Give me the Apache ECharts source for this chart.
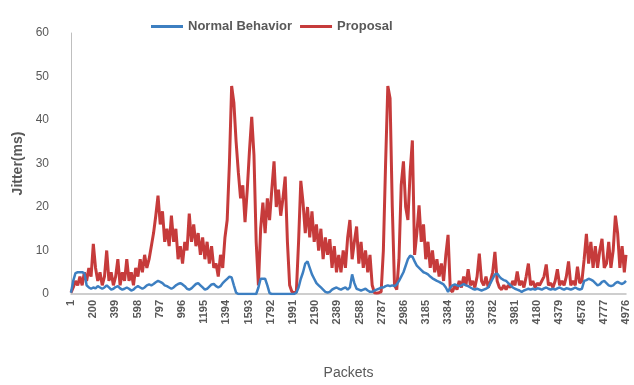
<!DOCTYPE html>
<html>
<head>
<meta charset="utf-8">
<script src="https://cdn.jsdelivr.net/npm/echarts@6/dist/echarts.min.js"></script>
<style>
html,body{margin:0;padding:0;background:#fff;}
#chart{width:634px;height:385px;}
</style>
</head>
<body>
<div id="chart"></div>
<script>
// Tick labels on the packet axis
var xTickLabels = ['1','200','399','598','797','996','1195','1394','1593','1792','1991','2190','2389','2588','2787','2986','3185','3384','3583','3782','3981','4180','4379','4578','4777','4976'];
var yTicks = [0,10,20,30,40,50,60];
var seriesNames = ['Normal Behavior','Proposal'];

// Sample packets: every 20th packet, plus the last one
var packetStep = 20;
var lastPacket = 4976;

var normalBehavior = [
0.3,3,4.8,5,5, 5,4.8,2,1.5,1.2, 1.5,1.3,1.8,1.5,1.2, 1.5,2,1.5,1,1.2,
1.6,1.8,1.3,1,1.2, 1.5,1.2,0.8,1,1.5, 1.8,1.5,1.2,1.5,2, 2.2,2,2.3,2.7,3,
2.8,2.5,2,1.8,1.5, 1.2,1.5,2,2.3,2.5, 2.2,1.8,1.2,1,1.3, 1.8,2.3,2.5,2,1.5,
1,1.2,1.7,2.2,2.3, 1.8,1.5,1.8,2.5,3, 3.5,4,3.8,2,0.3, 0,0,0,0,0,
0,0,0,0,1.5, 3.5,3.5,3.5,2,0.2, 0,0,0,0,0, 0,0,0,0,0,
0,0.3,1.5,3.5,5, 7,7.5,6,4.5,3.5, 2.5,2,1.5,1,0.5, 0.3,0.5,1,1.3,1.5,
1.2,1,1.3,1.5,1, 1.5,4.5,2.5,1.2,1, 0.8,1,1.2,0.8,0.5, 0.5,0.8,1,1.2,1.5,
1.5,1.8,2,1.8,2, 1.8,2.2,3,4,5, 6.5,8,8.8,8.6,7.5, 6.5,6,5.5,5,4.8,
4.5,4,3.6,3.3,3, 2.8,2.5,2.2,1.5,0.5, 1.5,2,2.2,2,1.8, 2,2.3,2,1.8,1.5,
1.2,1,1.2,1,0.8, 1,1.2,1.5,2.5,3.5, 4.5,4.7,4,3.5,3.2, 3,2.5,2,1.5,1.2,
1,0.8,0.5,0.8,1, 1.2,1,1.2,1,1.3, 1.2,1,1.3,1.5,1.2, 1,1.2,1,1.3,1.5,
1.2,1,1.3,1.2,1, 1.2,1.5,1.2,1,1.2, 3,3.2,3.5,3.3,3, 2.5,2,2.2,2.8,3,
2.5,2,1.8,2,2.5, 2.8,2.5,2.3,2.6,3
];
var proposal = [
0.3,1.5,3,2,4, 2,5,3,6,4, 11.5,6,3,5,2, 4,10,3,5,2,
4,8,2,5,3, 8,3,5,2,6, 4,8,5,9,6, 8,11,14,18,22.6,
16,19,12,15,11, 18,12,15,8,11, 7,12,10,18.5,12, 16,11,14,9,13,
8,12,7,11,6, 7,4,9,6,13, 17,30,47.8,44,35, 28,22,25,16.5,24,
33,40.7,32,12,2, 15,21,14,22,17, 24,30.5,20,24,18, 22,27,12,2,0.5,
0.3,0.5,12,26,21, 14,20,13,19,12, 16,10,15,8,13, 9,12.6,6,11,5,
9,5,10,6,13, 17,8,12,15.5,7, 12,6,10,5,9, 2,0.3,0.2,0.3,0.5,
10,30,47.8,45,20, 2,1,8,25,30.5, 20,17,28,35.3,9, 14,20.4,12,16,8,
12,6,10,5,8, 4,7,3,9,13.6, 1,0.5,2,1,3, 1.5,4,2,5.7,2,
3,1.5,4,9.3,3, 2,4,1.5,3,5, 9.7,3,1.5,1,2, 1,2,1.5,3,2,
5.2,2,3,1.5,4, 7,2,3,1.5,2.5, 2,3,4,6.8,2, 2.5,1.5,3,5.7,2,
3,2,4,7.5,2, 3,2,6.3,2.5,3, 8,13.8,7,12,6, 11,6,10,12.7,6,
7,12,6,10,18, 14,6,11,5,9
];

function samplePackets(n){
  var arr = [];
  for (var i = 0; i < n; i++) arr.push(Math.min(1 + i*packetStep, lastPacket));
  return arr;
}
var packets = samplePackets(normalBehavior.length);
function pairs(vals){ return vals.map(function(v,i){ return [packets[i]-1, v]; }); }

var chart = echarts.init(document.getElementById('chart'), null, {renderer:'canvas'});
var gray = '#595959';
chart.setOption({
  animation:false,
  backgroundColor:'#ffffff',
  legend:{
    data:seriesNames, top:15, left:146,
    itemWidth:32, itemHeight:3, itemGap:8,
    icon:'rect',
    textStyle:{color:gray, fontSize:13, fontWeight:'bold', fontFamily:'Liberation Sans'}
  },
  grid:{left:71, right:8, top:33, bottom:87, containLabel:false},
  xAxis:{
    type:'value', min:0, max:4975, interval:199,
    name:'Packets', nameLocation:'middle', nameGap:72,
    nameTextStyle:{color:gray, fontSize:14, fontFamily:'Liberation Sans'},
    axisLine:{show:true, lineStyle:{color:'#bfbfbf', width:1.5}},
    axisTick:{show:false},
    splitLine:{show:false},
    axisLabel:{
      rotate:90, color:gray, fontSize:11, fontWeight:'bold', fontFamily:'Liberation Sans', margin:6,
      formatter:function(v){ return xTickLabels[Math.round(v/199)] || ''; }
    }
  },
  yAxis:{
    type:'value', min:yTicks[0], max:yTicks[yTicks.length-1], interval:10,
    name:'Jitter(ms)', nameLocation:'middle', nameGap:46,
    nameTextStyle:{color:gray, fontSize:14, fontWeight:'bold', fontFamily:'Liberation Sans'},
    axisLine:{show:true, lineStyle:{color:'#bfbfbf', width:1}},
    axisTick:{show:false},
    splitLine:{show:false},
    axisLabel:{color:gray, fontSize:12, fontFamily:'Liberation Sans', margin:22}
  },
  series:[
    {name:seriesNames[0], type:'line', data:pairs(normalBehavior), showSymbol:false, symbol:'none',
     lineStyle:{color:'#3d7fc1', width:2.5}, itemStyle:{color:'#3d7fc1'}, z:3},
    {name:seriesNames[1], type:'line', data:pairs(proposal), showSymbol:false, symbol:'none',
     lineStyle:{color:'#c63b3b', width:3}, itemStyle:{color:'#c63b3b'}, z:2}
  ]
});
</script>
</body>
</html>
